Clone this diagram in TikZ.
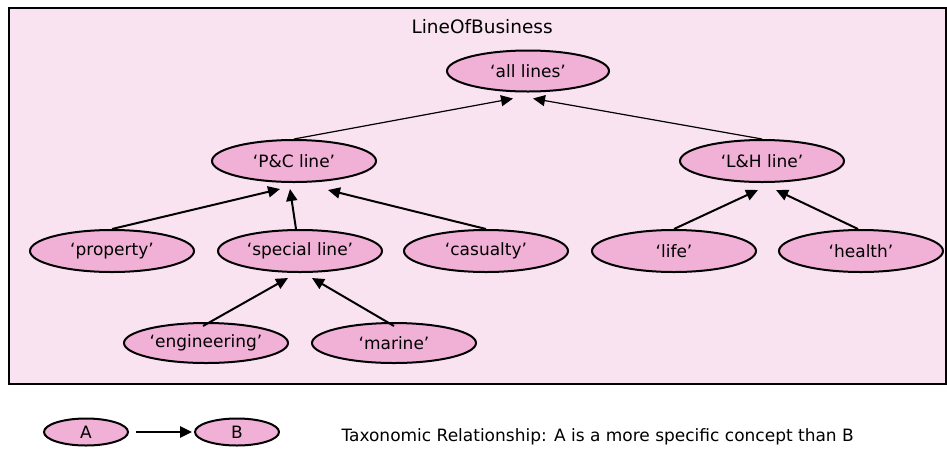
\documentclass[tikz,border=0pt]{standalone}
\usepackage{fontspec}
\setmainfont{DejaVu Sans}
\usetikzlibrary{shapes.geometric,arrows.meta}
\definecolor{framefill}{RGB}{250,227,241}
\definecolor{nodefill}{RGB}{241,176,214}
\tikzset{
  concept/.style={ellipse,draw=black,line width=2pt,fill=nodefill,minimum width=164pt,minimum height=42pt,inner sep=0pt,font=\fontsize{17}{20}\selectfont},
  small/.style={concept,minimum width=84pt,minimum height=27pt},
  arr/.style={line width=2pt,-{Triangle[length=12pt,width=11pt]}},
  thinarr/.style={line width=1.2pt,-{Triangle[length=12pt,width=11pt]}},
}
\begin{document}
\begin{tikzpicture}[x=1pt,y=-1pt]
\useasboundingbox (0,0) rectangle (947,448);
\draw[fill=framefill,line width=2pt] (8.5,8) rectangle (945.5,383.5);
\node[anchor=base west,font=\fontsize{18.5}{21}\selectfont] (title) at (408,33) {LineOfBusiness};
\node[concept,minimum width=162pt,minimum height=41pt] (all) at (528,71) {‘all lines’};
\node[concept] (pc) at (294,161) {‘P\&C line’};
\node[concept] (lh) at (762,161) {‘L\&H line’};
\node[concept] (prop) at (112,251) {‘property’};
\node[concept] (spec) at (300,251) {‘special line’};
\node[concept] (cas) at (486,251) {‘casualty’};
\node[concept] (life) at (674,251) {‘life’};
\node[concept] (health) at (861,251) {‘health’};
\node[concept,minimum height=40pt] (eng) at (206,343) {‘engineering’};
\node[concept,minimum height=40pt] (mar) at (394,343) {‘marine’};
% edges
\draw[thinarr] (pc.north) -- ([xshift=-15pt,yshift=-6pt]all.south);
\draw[thinarr] (lh.north) -- ([xshift=5pt,yshift=-6pt]all.south);
\draw[arr] (prop.north) -- ([xshift=-14pt,yshift=-6pt]pc.south);
\draw[arr] ([xshift=-4pt]spec.north) -- ([xshift=-4pt,yshift=-6pt]pc.south);
\draw[arr] (cas.north) -- ([xshift=34pt,yshift=-7pt]pc.south);
\draw[arr] (life.north) -- ([xshift=-4pt,yshift=-7pt]lh.south);
\draw[arr] ([xshift=-3pt]health.north) -- ([xshift=14pt,yshift=-7pt]lh.south);
\draw[arr] ([xshift=-3pt,yshift=-4pt]eng.north) -- ([xshift=-12pt,yshift=-5pt]spec.south);
\draw[arr] ([yshift=-4pt]mar.north) -- ([xshift=12pt,yshift=-5pt]spec.south);
% legend
\node[small] (la) at (86,432) {A};
\node[small] (lb) at (237,432) {B};
\draw[arr,line width=2.6pt] ([xshift=7pt]la.east) -- ([xshift=-2pt]lb.west);
\node[anchor=base west,font=\fontsize{17}{20}\selectfont] (legtext) at (338,441) {Taxonomic Relationship: A is a more specific concept than B};
\end{tikzpicture}
\end{document}
